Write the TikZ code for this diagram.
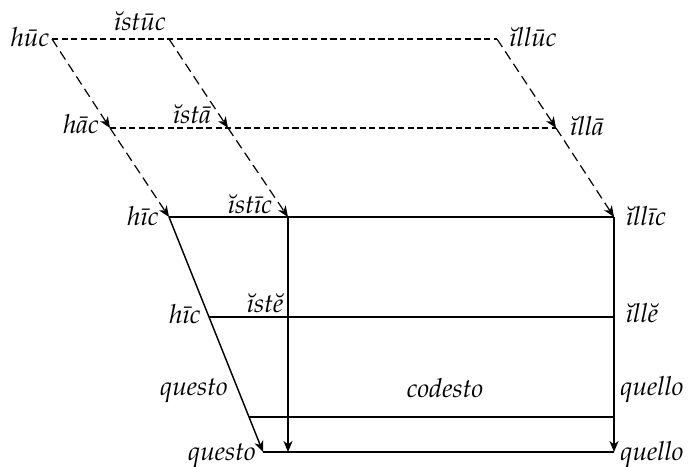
\documentclass[tikz,border=0pt]{standalone}
\usepackage[T1]{fontenc}
\usepackage{mathpazo}
\usetikzlibrary{arrows.meta}
\tikzset{
  word/.style={font=\fontsize{10.95pt}{13pt}\selectfont\itshape, inner sep=0pt, anchor=base},
  solid line/.style={line width=0.6pt},
  flat dash/.style={line width=0.5pt, dash pattern=on 2.6pt off 1.4pt},
  slant dash/.style={line width=0.5pt, dash pattern=on 4pt off 2.2pt},
}

\begin{document}
\begin{tikzpicture}[x=0.4167pt, y=-0.4167pt, >={Stealth[length=4.6pt, width=3.8pt, inset=1.4pt]}]
  \useasboundingbox (0,0) rectangle (692,466);
  % corner points
  \coordinate (huc) at (52,39);
  \coordinate (istuc) at (169,39);
  \coordinate (illuc) at (497,39);
  \coordinate (hac) at (110,128);
  \coordinate (ista) at (228,128);
  \coordinate (illa) at (556,128);
  \coordinate (hic) at (169,217);
  \coordinate (istic) at (288,217);
  \coordinate (illic) at (614,217);
  \coordinate (hicb) at (209,317);
  \coordinate (ille) at (614,317);
  \coordinate (questoa) at (249,417);
  \coordinate (quelloa) at (614,417);
  \coordinate (questob) at (263,452);
  \coordinate (istb) at (288,452);
  \coordinate (quellob) at (614,452);
  % words
  \node[word] (huct) at (30,46) {h\=uc};
  \node[word] (istuct) at (140,30) {\u{\i}st\=uc};
  \node[word] (illuct) at (533,46) {\u{\i}ll\=uc};
  \node[word] (hact) at (81,133) {h\=ac};
  \node[word] (istat) at (192,123) {\u{\i}st\=a};
  \node[word] (illat) at (587,135) {\u{\i}ll\=a};
  \node[word] (hict) at (143,225) {h\={\i}c};
  \node[word] (istict) at (250,213) {\u{\i}st\={\i}c};
  \node[word] (illict) at (646,225) {\u{\i}ll\={\i}c};
  \node[word] (hicbt) at (185,323) {h\={\i}c};
  \node[word] (istet) at (265,312) {\u{\i}st\u{e}};
  \node[word] (illet) at (642,322) {\u{\i}ll\u{e}};
  \node[word] (questoat) at (194,395) {questo};
  \node[word] (codestot) at (445,397) {codesto};
  \node[word] (quelloat) at (652,395) {quello};
  \node[word] (questobt) at (222,460) {questo};
  \node[word] (quellobt) at (652,460) {quello};
  % dashed upper part
  \draw[flat dash] (huc) -- (illuc);
  \draw[flat dash] (hac) -- (illa);
  \draw[slant dash, ->] (huc) -- (hac);
  \draw[slant dash, ->] (hac) -- (hic);
  \draw[slant dash, ->] (istuc) -- (ista);
  \draw[slant dash, ->] (ista) -- (istic);
  \draw[slant dash, ->] (illuc) -- (illa);
  \draw[slant dash, ->] (illa) -- (illic);
  % solid lower part
  \draw[solid line] (hic) -- (illic);
  \draw[solid line] (hicb) -- (ille);
  \draw[solid line] (questoa) -- (quelloa);
  \draw[solid line] (questob) -- (quellob);
  \draw[solid line, ->] (hic) -- (questob);
  \draw[solid line, ->] (istic) -- (istb);
  \draw[solid line, ->] (illic) -- (quellob);
\end{tikzpicture}
\end{document}
